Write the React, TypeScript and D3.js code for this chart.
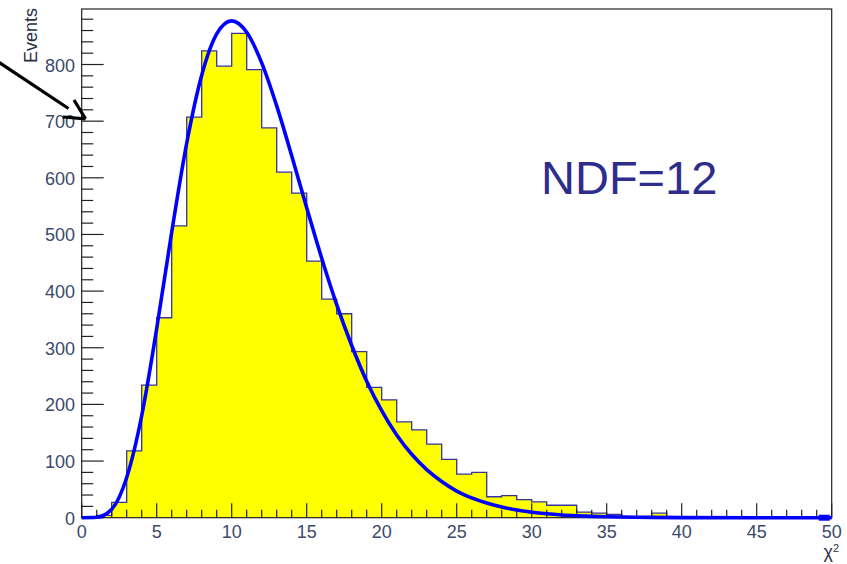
import React from "react";
import * as d3 from "d3";

// Histogram bin contents, bins of width 1 from 0 to 50
const binCounts: number[] = [
  0, 4, 27, 118, 234, 353, 515, 707, 824, 797,
  855, 791, 688, 610, 573, 453, 386, 360, 293, 230,
  208, 169, 155, 130, 103, 77, 80, 37, 39, 32,
  28, 22, 22, 10, 8, 6, 0, 0, 8, 1,
  0, 0, 0, 0, 0, 0, 0, 0, 0, 0,
];

// Fitted curve samples (x, events)
const curveX: number[] = [
  0, 1, 2, 3, 4, 5, 6, 7, 8, 9, 10, 11, 12, 13, 14, 15, 16, 17, 18, 19, 20,
  21, 22, 23, 24, 25, 26, 27, 28, 29, 30, 31, 32, 33, 34, 35, 36, 37, 38, 40, 45, 50,
];
const curveY: number[] = [
  0, 0.8, 15, 71, 180, 334, 504, 661, 781, 854, 877, 857, 803, 727, 639, 547, 458, 376, 304, 241, 189,
  146, 112, 85, 64, 47, 35, 26, 19, 13.5, 9.7, 6.9, 4.9, 3.5, 2.4, 1.7, 1.2, 0.8, 0.5, 0.2, 0, 0,
];

const xMajorTicks: number[] = [0, 5, 10, 15, 20, 25, 30, 35, 40, 45, 50];
const yMajorTicks: number[] = [0, 100, 200, 300, 400, 500, 600, 700, 800];

const W = 847;
const H = 564;
const left = 81.7;
const right = 831.7;
const top = 9;
const bottom = 517.7;

export default function App() {
  const x = d3.scaleLinear().domain([0, 50]).range([left, right]);
  const y = d3.scaleLinear().domain([0, 898]).range([bottom, top]);

  const stepPts: [number, number][] = binCounts.map((v, i) => [i, v]);
  stepPts.push([50, binCounts[binCounts.length - 1]]);

  const area = d3
    .area<[number, number]>()
    .x((d) => x(d[0]))
    .y0(y(0))
    .y1((d) => y(d[1]))
    .curve(d3.curveStepAfter);
  const outline = d3
    .line<[number, number]>()
    .x((d) => x(d[0]))
    .y((d) => y(d[1]))
    .curve(d3.curveStepAfter);

  const curvePts: [number, number][] = curveX.map((v, i) => [v, curveY[i]]);
  const curveLine = d3
    .line<[number, number]>()
    .x((d) => x(d[0]))
    .y((d) => y(d[1]))
    .curve(d3.curveMonotoneX);

  const xMinor = d3.range(0, 51, 1).filter((v) => v % 5 !== 0);
  const yMinor = d3.range(0, 900, 20).filter((v) => v % 100 !== 0);

  const font = "'Liberation Sans', Arial, sans-serif";
  const labelColor = "#3b4a6b";

  return (
    <svg
      width={W}
      height={H}
      style={{ position: "absolute", left: 0, top: 0, background: "#fff" }}
      fontFamily={font}
    >
      {/* histogram */}
      <path d={area(stepPts) || ""} fill="#ffff00" stroke="none" />
      <path d={outline(stepPts) || ""} fill="none" stroke="#34349c" strokeWidth={1.3} />

      {/* frame */}
      <rect x={left} y={top} width={right - left} height={bottom - top} fill="none" stroke="#222" strokeWidth={1.2} />

      {/* y ticks */}
      {yMajorTicks.map((t) => (
        <line key={"ym" + t} x1={left} x2={left + 22} y1={y(t)} y2={y(t)} stroke="#222" strokeWidth={1.2} />
      ))}
      {yMinor.map((t) => (
        <line key={"yn" + t} x1={left} x2={left + 11.5} y1={y(t)} y2={y(t)} stroke="#222" strokeWidth={1.2} />
      ))}
      {/* x ticks */}
      {xMajorTicks.map((t) => (
        <line key={"xm" + t} x1={x(t)} x2={x(t)} y1={bottom} y2={bottom - 14.5} stroke="#222" strokeWidth={1.2} />
      ))}
      {xMinor.map((t) => (
        <line key={"xn" + t} x1={x(t)} x2={x(t)} y1={bottom} y2={bottom - 8} stroke="#222" strokeWidth={1.2} />
      ))}

      {/* fitted curve */}
      <path d={curveLine(curvePts) || ""} fill="none" stroke="#0000ff" strokeWidth={3.6} strokeLinejoin="round" />
      <rect x={x(50) - 13} y={y(0) - 3} width={11} height={6} fill="#0000ff" />

      {/* tick labels */}
      {yMajorTicks.map((t) => (
        <text key={"yl" + t} x={75} y={y(t) + 7} textAnchor="end" fontSize={18} fill={labelColor}>
          {t}
        </text>
      ))}
      {xMajorTicks.map((t) => (
        <text key={"xl" + t} x={x(t)} y={538} textAnchor="middle" fontSize={18} fill={labelColor}>
          {t}
        </text>
      ))}

      {/* axis titles */}
      <text transform="translate(37,8) rotate(-90)" textAnchor="end" fontSize={18} fill="#2a3045">
        Events
      </text>
      <text x={839} y={557.5} textAnchor="end" fontSize={18} fill="#2a3045">
        χ<tspan fontSize={11} dy={-6}>2</tspan>
      </text>

      {/* annotation */}
      <text x={541} y={194} fontSize={47} fill="#2d2d8c">
        NDF=12
      </text>

      {/* arrow */}
      <line x1={-3} y1={61} x2={68.5} y2={108.5} stroke="#000" strokeWidth={3.2} />
      <line x1={74} y1={100} x2={85.5} y2={118.8} stroke="#000" strokeWidth={3.2} />
      <line x1={63} y1={117} x2={85.5} y2={118.8} stroke="#000" strokeWidth={3.2} />
    </svg>
  );
}
